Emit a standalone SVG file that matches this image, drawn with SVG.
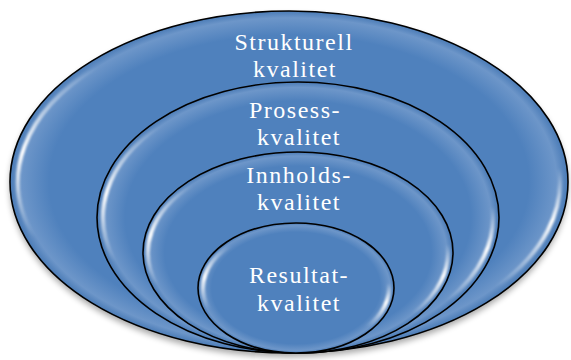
<svg xmlns="http://www.w3.org/2000/svg" width="571" height="360" viewBox="0 0 571 360">
<style>
.ring{fill:url(#fillGrad);stroke:#000;stroke-width:1.6}
.hl{fill:none;stroke-width:4;stroke-linecap:round;filter:url(#soft)}
.hlL{stroke:url(#hlGradV)}
.hlR{stroke:url(#hlGradV2)}
.lbl{font-family:"Liberation Serif","Times New Roman",serif;font-size:24px;fill:#fff;text-anchor:middle;letter-spacing:1.5px}
</style>
<defs>
<radialGradient id="fillGrad" cx="0.5" cy="0.5" r="0.5">
<stop offset="0" stop-color="#4f81bd"/>
<stop offset="0.86" stop-color="#4f81bd"/>
<stop offset="0.96" stop-color="#6d96c9"/>
<stop offset="1" stop-color="#4a7bb6"/>
</radialGradient>
<linearGradient id="hlGradV" x1="0" y1="0" x2="0" y2="1">
<stop offset="0" stop-color="#fff" stop-opacity="0"/>
<stop offset="0.5" stop-color="#fff" stop-opacity="1"/>
<stop offset="1" stop-color="#fff" stop-opacity="0"/>
</linearGradient>
<linearGradient id="hlGradV2" x1="0" y1="0" x2="0" y2="1">
<stop offset="0" stop-color="#fff" stop-opacity="0"/>
<stop offset="0.45" stop-color="#fff" stop-opacity="1"/>
<stop offset="1" stop-color="#fff" stop-opacity="0"/>
</linearGradient>
<filter id="soft" x="-20%" y="-20%" width="140%" height="140%">
<feGaussianBlur stdDeviation="1"/>
</filter>
<filter id="shadow" x="-10%" y="-10%" width="120%" height="130%">
<feGaussianBlur stdDeviation="3"/>
</filter>
</defs>

<ellipse cx="289" cy="186" rx="279" ry="171" fill="#000" opacity="0.35" filter="url(#shadow)"/>

<g id="strukturell">
<ellipse class="ring" cx="289" cy="182" rx="279" ry="171"/>
<path class="hl hlL" d="M97.4,66.7 A271,163 0 0 0 34.3,237.7"/>
<path class="hl hlR" d="M559,167.8 A271,163 0 0 1 496.6,286.8"/>
<text class="lbl" x="294" y="50">Strukturell</text>
<text class="lbl" x="295" y="77">kvalitet</text>
</g>

<g id="prosess">
<ellipse class="ring" cx="298" cy="217.5" rx="201" ry="135.5"/>
<path class="hl hlL" d="M160.1,125.9 A195,129.5 0 0 0 114.8,261.8"/>
<path class="hl hlR" d="M492.3,206.2 A195,129.5 0 0 1 447.4,300.7"/>
<text class="lbl" x="295" y="118">Prosess-</text>
<text class="lbl" x="299" y="145">kvalitet</text>
</g>

<g id="innholds">
<ellipse class="ring" cx="298" cy="252.5" rx="155" ry="100.5"/>
<path class="hl hlL" d="M191.9,185 A150,95.5 0 0 0 157,285.2"/>
<path class="hl hlR" d="M447.4,244.2 A150,95.5 0 0 1 412.9,313.9"/>
<text class="lbl" x="299" y="183">Innholds-</text>
<text class="lbl" x="299" y="210">kvalitet</text>
</g>

<g id="resultat">
<ellipse class="ring" cx="296" cy="288" rx="98" ry="65"/>
<path class="hl hlL" d="M230.2,245.6 A93,60 0 0 0 208.6,308.5"/>
<path class="hl hlR" d="M388.6,282.8 A93,60 0 0 1 367.2,326.6"/>
<text class="lbl" x="299" y="283">Resultat-</text>
<text class="lbl" x="299" y="311">kvalitet</text>
</g>
</svg>
